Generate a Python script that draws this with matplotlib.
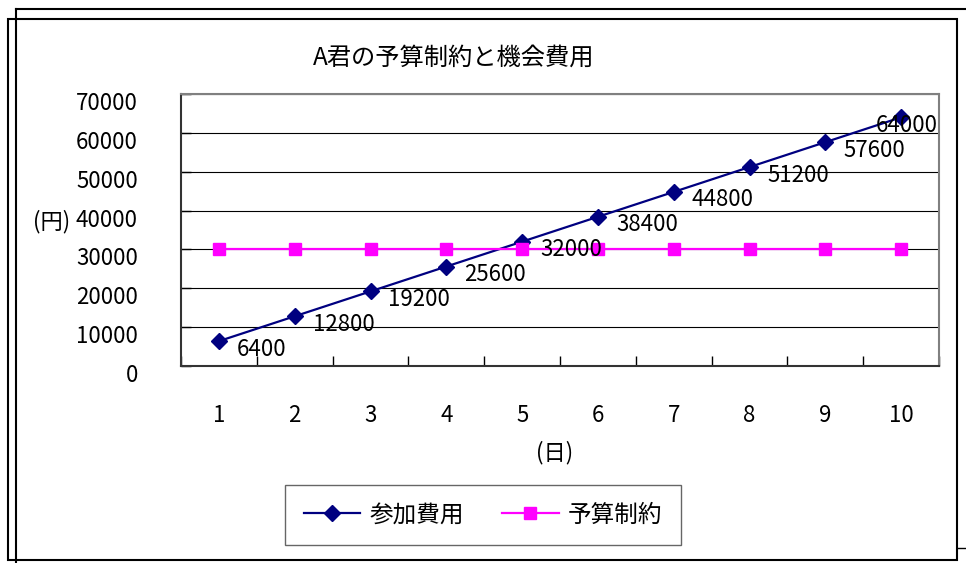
import numpy as np
import matplotlib.pyplot as plt
import matplotlib.transforms as mtransforms
from matplotlib.lines import Line2D
from matplotlib.patches import Rectangle

plt.rcParams['font.family'] = ['Noto Sans CJK JP', 'DejaVu Sans']

# data
days = [1, 2, 3, 4, 5, 6, 7, 8, 9, 10]
cost = [6400, 12800, 19200, 25600, 32000, 38400, 44800, 51200, 57600, 64000]
budget = [30000, 30000, 30000, 30000, 30000, 30000, 30000, 30000, 30000, 30000]
y_ticks = [0, 10000, 20000, 30000, 40000, 50000, 60000, 70000]

W, H = 966, 563
fig = plt.figure(figsize=(W / 100, H / 100), dpi=100)
ax = fig.add_axes([181 / W, 1 - 366 / H, (939 - 181) / W, (366 - 94) / H])

ax.plot(days, cost, color='#000080', lw=1.6, marker='D', ms=8, label='参加費用')
ax.plot(days, budget, color='#FF00FF', lw=1.6, marker='s', ms=8, label='予算制約')

# value labels next to each point, last one pulled back inside the plot
for i, (d, v) in enumerate(zip(days, cost)):
    dx = 18 if i < len(days) - 1 else -25
    ax.annotate(str(v), (d, v), xytext=(dx, -8), textcoords='offset pixels',
                ha='left', va='center', fontsize=16)

ax.set_xlim(0.5, 10.5)
ax.set_ylim(0, 70000)
ax.set_yticks(y_ticks)
ax.set_xticks(days)
ax.set_xticks(np.arange(0.5, 11, 1), minor=True)
ax.tick_params(axis='x', which='major', length=0, pad=27, labelsize=16)
ax.tick_params(axis='x', which='minor', direction='in', length=7, width=1)
ax.tick_params(axis='y', direction='in', length=7, width=1, pad=31, labelsize=16)
ax.grid(axis='y', color='black', lw=0.8)
ax.set_axisbelow(True)

# y labels sit a little below their gridlines
shift = mtransforms.ScaledTranslation(0, -7 / 100, fig.dpi_scale_trans)
for lbl in ax.get_yticklabels():
    lbl.set_transform(lbl.get_transform() + shift)

for s in ['top', 'right']:
    ax.spines[s].set_color('#808080')
    ax.spines[s].set_linewidth(1.5)
for s in ['left', 'bottom']:
    ax.spines[s].set_color('#333333')
    ax.spines[s].set_linewidth(1.5)

fig.text(454 / W, 1 - 58 / H, 'A君の予算制約と機会費用', ha='center', va='center', fontsize=17.5)
fig.text(52 / W, 1 - 222 / H, '(円)', ha='center', va='center', fontsize=16)
fig.text(555 / W, 1 - 453 / H, '(日)', ha='center', va='center', fontsize=16)

leg = fig.legend(loc='center', bbox_to_anchor=(483 / W, 1 - 515 / H), ncol=2, fontsize=17,
                 frameon=True, fancybox=False, edgecolor='#404040', handlelength=2.4,
                 handletextpad=0.4, columnspacing=1.6, borderpad=0.8)
leg.get_frame().set_linewidth(1.0)

# chart border lines
fig.add_artist(Rectangle((8 / W, 1 - 560 / H), (957 - 8) / W, (560 - 19) / H,
                         transform=fig.transFigure, fill=False, ec='black', lw=1.5))
fig.add_artist(Line2D([16 / W, 1], [1 - 9 / H, 1 - 9 / H], transform=fig.transFigure, color='black', lw=1.5))
fig.add_artist(Line2D([16 / W, 16 / W], [1 - 9 / H, 0], transform=fig.transFigure, color='black', lw=1.5))
fig.add_artist(Line2D([957 / W, 1], [1 - 548 / H, 1 - 548 / H], transform=fig.transFigure, color='black', lw=1.0))

fig.savefig('out.png', dpi=100)
